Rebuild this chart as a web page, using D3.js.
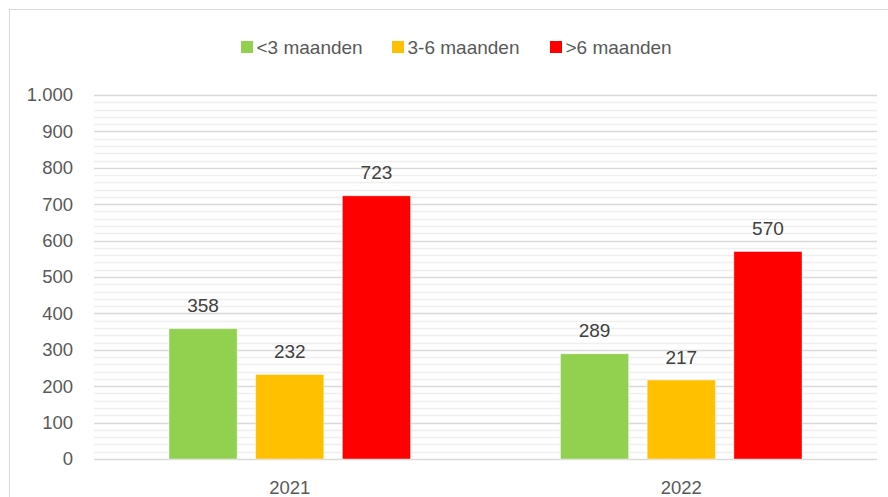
<!DOCTYPE html>
<html><head><meta charset="utf-8">
<script src="https://cdn.jsdelivr.net/npm/d3@7"></script>
<style>
html,body{margin:0;padding:0;background:#fff;}
svg{display:block;font-family:"Liberation Sans",Arial,sans-serif;}
</style></head>
<body>
<svg id="c" width="888" height="497"></svg>
<script>
const categories = ["2021", "2022"];
const seriesNames = ["<3 maanden", "3-6 maanden", ">6 maanden"];
const seriesColors = ["#92D050", "#FFC000", "#FF0000"];
const values = {
  "<3 maanden": [358, 289],
  "3-6 maanden": [232, 217],
  ">6 maanden": [723, 570]
};
const yTicks = [0, 100, 200, 300, 400, 500, 600, 700, 800, 900, 1000];
const yTickLabels = ["0", "100", "200", "300", "400", "500", "600", "700", "800", "900", "1.000"];
const minorTicks = d3.range(0, 1001, 20);

const svg = d3.select("#c");

// outer chart border
svg.append("rect").attr("x", 9.5).attr("y", 9.5).attr("width", 900).attr("height", 520)
  .attr("fill", "#fff").attr("stroke", "#D9D9D9").attr("stroke-width", 1);

const plot = {left: 94, right: 877, top: 95, bottom: 459};
const y = d3.scaleLinear().domain([0, 1000]).range([plot.bottom, plot.top]);
const x = d3.scaleBand().domain(categories).range([plot.left, plot.right]).padding(0);
const xs = d3.scaleBand().domain(seriesNames)
  .range([75, x.bandwidth() - 75]).paddingInner(0.214).paddingOuter(0);

// minor gridlines
svg.append("g").selectAll("line").data(minorTicks.filter(d => d % 100 !== 0)).join("line")
  .attr("x1", plot.left).attr("x2", plot.right)
  .attr("y1", d => Math.round(y(d)) + 0.5).attr("y2", d => Math.round(y(d)) + 0.5)
  .attr("stroke", "#EFEFEF").attr("stroke-width", 1.5);

// major gridlines
svg.append("g").selectAll("line").data(yTicks).join("line")
  .attr("x1", plot.left).attr("x2", plot.right)
  .attr("y1", d => Math.round(y(d)) + 0.5).attr("y2", d => Math.round(y(d)) + 0.5)
  .attr("stroke", "#D9D9D9").attr("stroke-width", d => d === 0 ? 1.5 : 1.3);

// y-axis labels
const yAxis = d3.axisLeft(y).tickValues(yTicks)
  .tickFormat((d, i) => yTickLabels[i]).tickSize(0).tickPadding(21);
const gy = svg.append("g").attr("transform", `translate(${plot.left},0)`).call(yAxis);
gy.select(".domain").remove();
gy.selectAll("text").attr("fill", "#595959").style("font-size", "18.5px")
  .style("font-family", '"Liberation Sans",Arial,sans-serif');

// x-axis labels
const xAxis = d3.axisBottom(x).tickSize(0).tickPadding(22);
const gx = svg.append("g").attr("transform", `translate(0,${plot.bottom})`).call(xAxis);
gx.select(".domain").remove();
gx.selectAll("text").attr("fill", "#595959").style("font-size", "18.5px")
  .style("font-family", '"Liberation Sans",Arial,sans-serif');

// bars
const flat = [];
categories.forEach((c, ci) => seriesNames.forEach((s, si) =>
  flat.push({cat: c, ser: s, v: values[s][ci], color: seriesColors[si]})));

svg.append("g").selectAll("rect").data(flat).join("rect")
  .attr("x", d => x(d.cat) + xs(d.ser))
  .attr("width", xs.bandwidth())
  .attr("y", d => y(d.v))
  .attr("height", d => y(0) - y(d.v))
  .attr("fill", d => d.color)
  .attr("stroke", "#fff").attr("stroke-opacity", 0.5).attr("stroke-width", 0.8);

// value labels
svg.append("g").selectAll("text").data(flat).join("text")
  .attr("x", d => x(d.cat) + xs(d.ser) + xs.bandwidth() / 2)
  .attr("y", d => y(d.v) - 16.5)
  .attr("text-anchor", "middle")
  .attr("fill", "#404040").style("font-size", "19px")
  .text(d => d.v);

// legend
const legendX = [241, 392, 550];
const lg = svg.append("g");
seriesNames.forEach((s, i) => {
  lg.append("rect").attr("x", legendX[i]).attr("y", 41).attr("width", 12).attr("height", 12)
    .attr("fill", seriesColors[i]);
  lg.append("text").attr("x", legendX[i] + 15.5).attr("y", 53.5)
    .attr("fill", "#595959").style("font-size", "19px").text(s);
});
</script>
</body></html>
